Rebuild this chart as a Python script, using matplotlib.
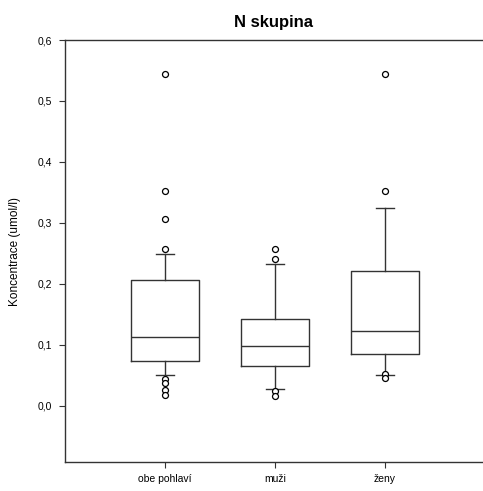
import matplotlib
matplotlib.use("Agg")
import matplotlib.pyplot as plt

plt.rcParams['font.family'] = ['Liberation Sans', 'DejaVu Sans']

# data
groups = ['obe pohlaví', 'muži', 'ženy']
q1 = [0.074, 0.066, 0.085]
med = [0.113, 0.098, 0.123]
q3 = [0.207, 0.143, 0.221]
whislo = [0.050, 0.028, 0.051]
whishi = [0.249, 0.233, 0.324]
outliers = [
    [0.544, 0.353, 0.307, 0.257, 0.044, 0.037, 0.026, 0.018],
    [0.257, 0.241, 0.025, 0.017],
    [0.544, 0.353, 0.053, 0.046],
]
yticks = [0.0, 0.1, 0.2, 0.3, 0.4, 0.5, 0.6]

stats = []
for i in range(len(groups)):
    stats.append(dict(label=groups[i], q1=q1[i], med=med[i], q3=q3[i],
                      whislo=whislo[i], whishi=whishi[i], fliers=outliers[i]))

fig = plt.figure(figsize=(4.83, 4.91), dpi=100)
ax = fig.add_axes([65/483, 29/491, 418/483, 422/491])

line = dict(color='#333333', linewidth=1.0)
ax.bxp(stats, positions=[1, 2, 3], widths=0.61, showfliers=True,
       boxprops=line, medianprops=line, whiskerprops=line,
       capprops=line, capwidths=0.16,
       flierprops=dict(marker='o', markersize=4.3, markerfacecolor='white',
                       markeredgecolor='black', markeredgewidth=0.9))

ax.set_xlim(1 - 100/110, 1 + 318/110)
ax.set_ylim(-0.092, 0.6)
ax.set_yticks(yticks)
ax.set_yticklabels([f"{v:.1f}".replace('.', ',') for v in yticks], fontsize=7.5)
ax.set_xticks([1, 2, 3])
ax.set_xticklabels(groups, fontsize=7.5)
ax.tick_params(direction='out', length=4, width=0.8, color='#333333', pad=5)
ax.spines['right'].set_visible(False)
for s in ['left', 'top', 'bottom']:
    ax.spines[s].set_color('#333333')
    ax.spines[s].set_linewidth(1.0)

ax.set_ylabel('Koncentrace (umol/l)', fontsize=8.5, labelpad=12)
ax.set_title('N skupina', fontsize=12, fontweight='bold', pad=9)

fig.savefig('out.png', dpi=100)
